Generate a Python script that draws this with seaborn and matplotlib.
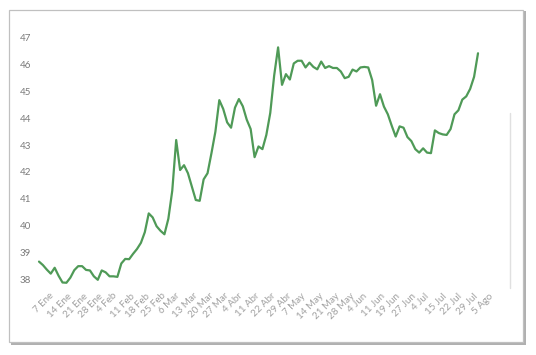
import matplotlib
matplotlib.use("Agg")
import matplotlib.pyplot as plt
import seaborn as sns
import pandas as pd
import numpy as np
from matplotlib.patches import Rectangle
from matplotlib.lines import Line2D
from matplotlib.transforms import ScaledTranslation

tick_labels = ["7 Ene", "14 Ene", "21 Ene", "28 Ene", "4 Feb", "11 Feb", "18 Feb",
               "25 Feb", "6 Mar", "13 Mar", "20 Mar", "27 Mar", "4 Abr", "11 Abr",
               "22 Abr", "29 Abr", "7 May", "14 May", "21 May", "28 May", "4 Jun",
               "11 Jun", "19 Jun", "27 Jun", "4 Jul", "15 Jul", "22 Jul", "29 Jul",
               "5 Ago"]
points_per_tick = 4

values = [
    38.65, 38.52, 38.35, 38.20, 38.42, 38.12, 37.87, 37.86, 38.05, 38.33,
    38.48, 38.48, 38.34, 38.32, 38.10, 37.97, 38.32, 38.25, 38.10, 38.10,
    38.08, 38.58, 38.75, 38.74, 38.94, 39.12, 39.35, 39.75, 40.45, 40.30,
    39.97, 39.80, 39.67, 40.25, 41.30, 43.19, 42.07, 42.25, 41.95, 41.45,
    40.95, 40.92, 41.72, 41.95, 42.70, 43.50, 44.68, 44.35, 43.85, 43.65,
    44.40, 44.72, 44.45, 43.95, 43.60, 42.55, 42.95, 42.85, 43.38, 44.20,
    45.60, 46.65, 45.25, 45.65, 45.45, 46.05, 46.15, 46.15, 45.90, 46.08,
    45.92, 45.83, 46.12, 45.88, 45.95, 45.88, 45.88, 45.75, 45.50, 45.55,
    45.82, 45.75, 45.90, 45.92, 45.90, 45.43, 44.47, 44.90, 44.44, 44.15,
    43.72, 43.32, 43.70, 43.65, 43.30, 43.15, 42.85, 42.72, 42.88, 42.72,
    42.70, 43.55, 43.45, 43.40, 43.38, 43.60, 44.15, 44.30, 44.70, 44.82,
    45.10, 45.55, 46.43,
]

df = pd.DataFrame({"idx": np.arange(len(values)), "valor": values})

sns.set_theme(style="white")
plt.rcParams["font.family"] = ["Lato", "DejaVu Sans"]

fig = plt.figure(figsize=(5.36, 3.55), dpi=100)
W, H = 536, 355

# frame with drop shadow
fig.patches.append(Rectangle((11 / W, 1 - 345 / H), 515 / W, 334 / H,
                             transform=fig.transFigure, facecolor="#b0b0b0",
                             edgecolor="none", zorder=-3))
fig.patches.append(Rectangle((9 / W, 1 - 342 / H), 514 / W, 332 / H,
                             transform=fig.transFigure, facecolor="white",
                             edgecolor="#c0c0c0", linewidth=0.9, zorder=-2))
fig.lines.append(Line2D([510 / W, 510 / W], [1 - 113 / H, 1 - 288 / H],
                        transform=fig.transFigure, color="#e0e0e0", linewidth=1.0,
                        zorder=-1))

ax = fig.add_axes([35 / W, 1 - 290 / H, 450 / W, 260 / H])
ax.set_zorder(5)
ax.set_facecolor("none")
sns.lineplot(data=df, x="idx", y="valor", ax=ax, color="#4f9a57", linewidth=1.6)

n = len(values)
ax.set_xlim(-1.02, (n - 1) + 7 / 3.92)
ax.set_ylim(38 - 11 / 26.8, 47 + 8 / 26.8)

ax.set_yticks(range(38, 48))
ax.set_yticklabels([str(v) for v in range(38, 48)], fontsize=7, color="#7a7a7a")
ticks = np.arange(0, len(tick_labels) * points_per_tick, points_per_tick)
ax.set_xticks(ticks)
ax.set_xticklabels(tick_labels, rotation=45, ha="center", va="top",
                   fontsize=7, color="#a0a0a0")
ax.tick_params(axis="both", length=0, pad=3)
ax.tick_params(axis="x", pad=1)
offset = ScaledTranslation(5 / 100, 0, fig.dpi_scale_trans)
for lab in ax.get_xticklabels():
    lab.set_transform(lab.get_transform() + offset)
ax.set_xlabel("")
ax.set_ylabel("")
for s in ax.spines.values():
    s.set_visible(False)
ax.grid(False)

fig.savefig("out.png", dpi=100)
